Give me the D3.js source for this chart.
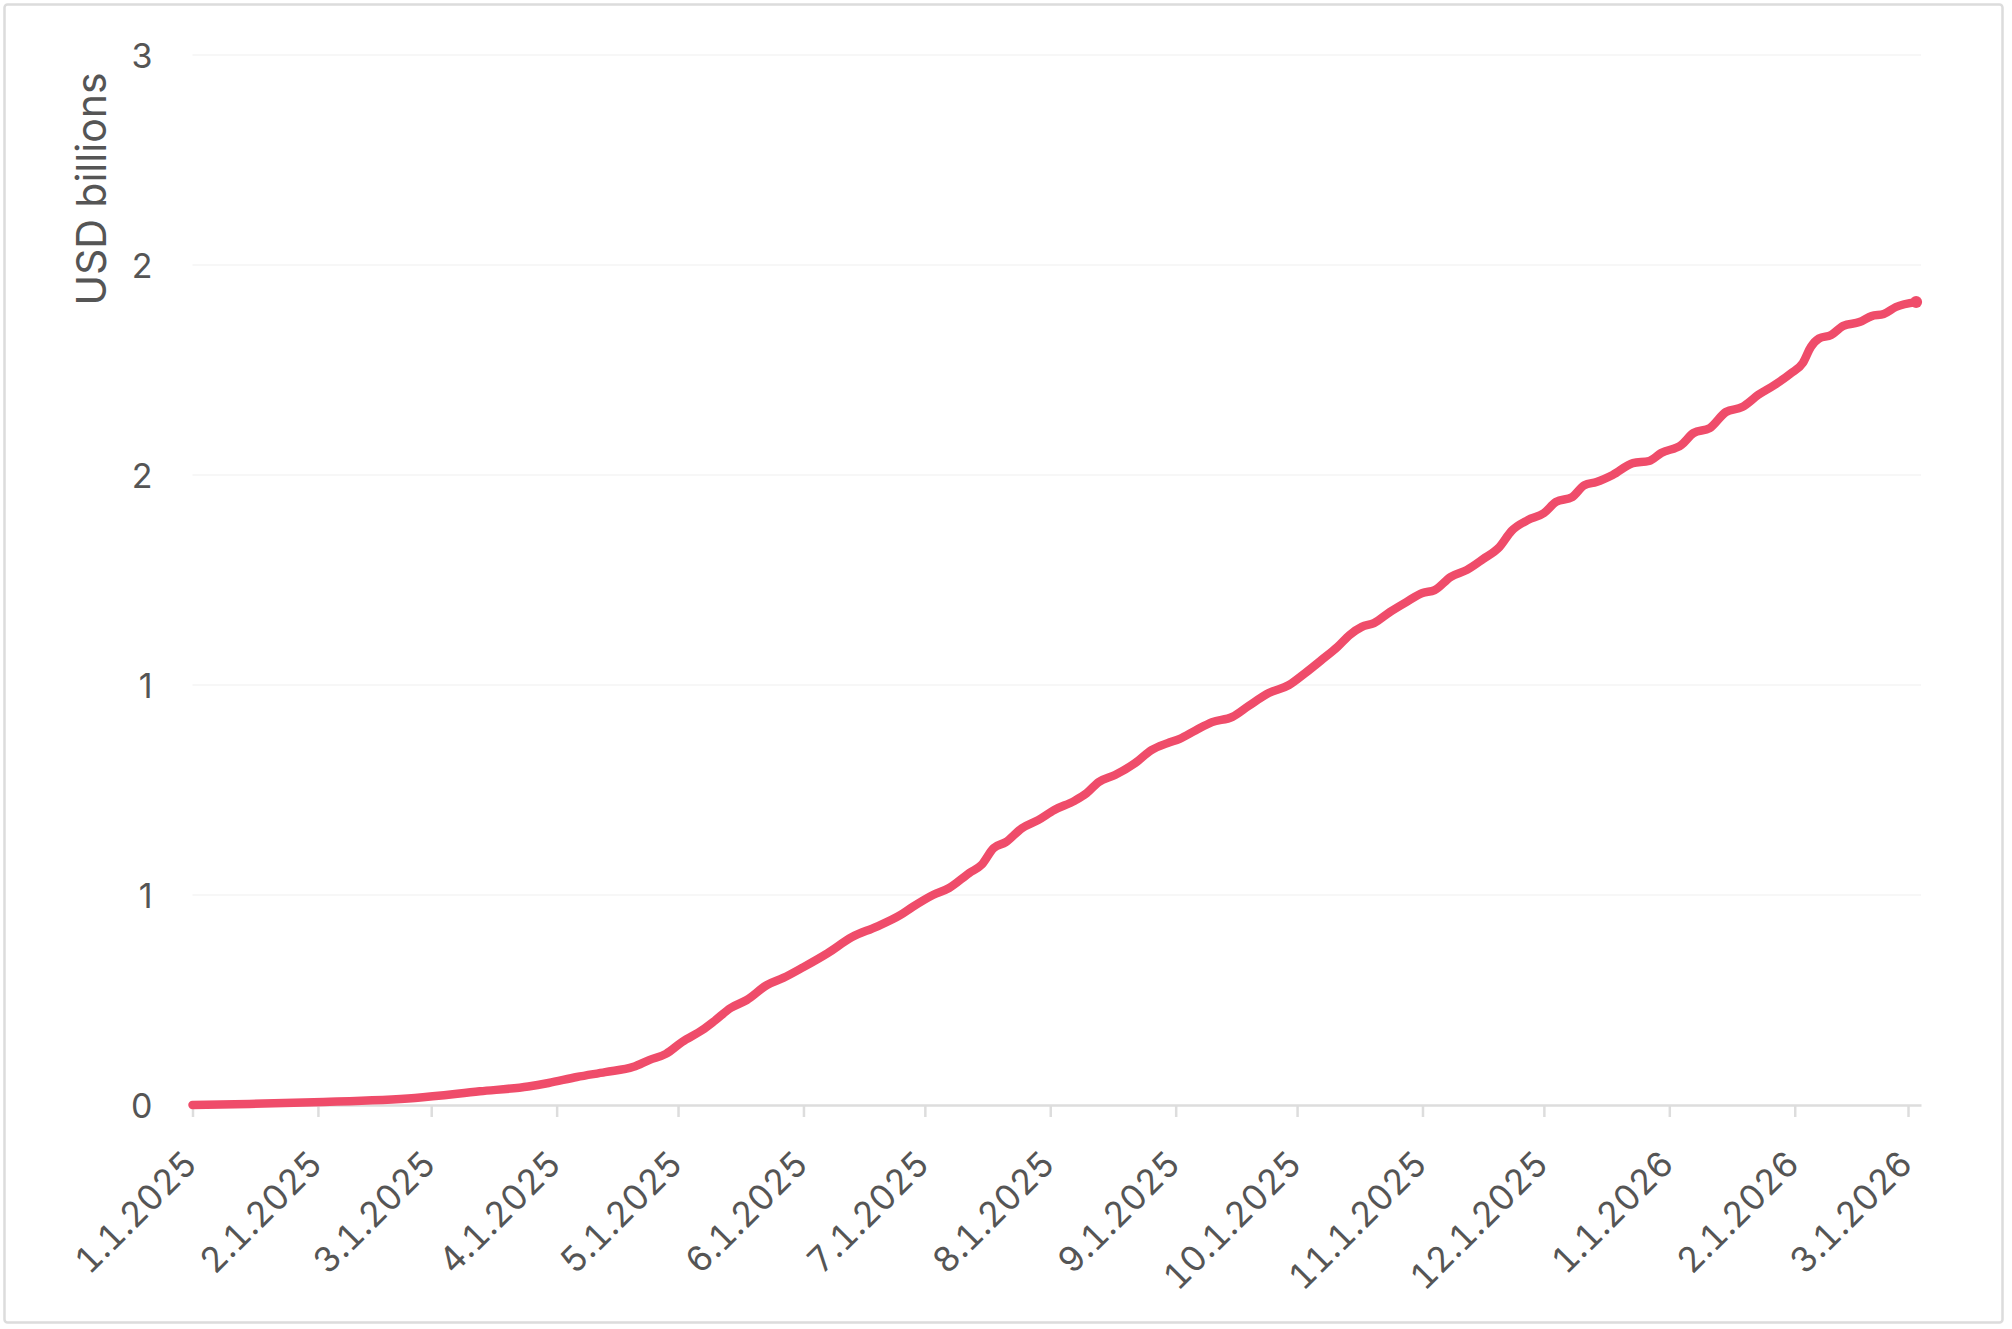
<!DOCTYPE html>
<html>
<head>
<meta charset="utf-8">
<script src="https://cdn.jsdelivr.net/npm/d3@7/dist/d3.min.js"></script>
<style>
  html, body { margin: 0; padding: 0; background: #ffffff; }
  svg { display: block; }
  .xlab { font-variant-numeric: tabular-nums; font-feature-settings: "tnum" 1; }
</style>
</head>
<body>
<svg id="chart" width="2012" height="1329"></svg>
<script>
// ---------------- DATA ----------------
const dates = [
  "2025-01-01","2025-01-15","2025-01-31","2025-02-25","2025-03-13","2025-03-25","2025-03-30",
  "2025-04-06","2025-04-13","2025-04-20","2025-04-24","2025-04-28","2025-05-02","2025-05-07",
  "2025-05-10","2025-05-14","2025-05-18","2025-05-23","2025-05-27","2025-06-01","2025-06-07",
  "2025-06-13","2025-06-19","2025-06-25","2025-06-28","2025-07-03","2025-07-07","2025-07-12",
  "2025-07-15","2025-07-18","2025-07-21","2025-07-25","2025-07-29","2025-08-02","2025-08-07",
  "2025-08-10","2025-08-13","2025-08-17","2025-08-22","2025-08-26","2025-08-30","2025-09-02",
  "2025-09-06","2025-09-10","2025-09-15","2025-09-19","2025-09-24","2025-09-29","2025-10-03",
  "2025-10-07","2025-10-11","2025-10-14","2025-10-17","2025-10-20","2025-10-24","2025-10-28",
  "2025-11-01","2025-11-04","2025-11-08","2025-11-12","2025-11-16","2025-11-20","2025-11-23",
  "2025-11-27","2025-12-01","2025-12-04","2025-12-08","2025-12-11","2025-12-14","2025-12-18",
  "2025-12-23","2025-12-27","2025-12-30","2026-01-04","2026-01-07","2026-01-11","2026-01-15",
  "2026-01-19","2026-01-23","2026-01-27","2026-01-31","2026-02-03","2026-02-05","2026-02-07",
  "2026-02-10","2026-02-13","2026-02-17","2026-02-20","2026-02-23","2026-02-26","2026-03-03"
];
const values = [
  0.000,0.003,0.008,0.020,0.039,0.053,0.063,
  0.080,0.094,0.109,0.129,0.146,0.180,0.214,
  0.240,0.277,0.300,0.343,0.363,0.394,0.434,
  0.480,0.509,0.543,0.566,0.600,0.620,0.663,
  0.686,0.734,0.751,0.791,0.814,0.843,0.869,
  0.891,0.923,0.943,0.977,1.014,1.034,1.046,
  1.071,1.094,1.109,1.140,1.177,1.200,1.234,
  1.271,1.309,1.343,1.366,1.377,1.409,1.437,
  1.463,1.471,1.509,1.529,1.560,1.594,1.640,
  1.671,1.691,1.723,1.737,1.771,1.780,1.800,
  1.834,1.840,1.863,1.886,1.920,1.934,1.980,
  1.994,2.029,2.057,2.090,2.120,2.166,2.190,
  2.200,2.226,2.237,2.254,2.260,2.280,2.294
];
const yTickValues = [0, 0.6, 1.2, 1.8, 2.4, 3.0];
const yTickLabels = ["0", "1", "1", "2", "2", "3"];
const yTitle = "USD billions";
const xDomainStart = "2025-01-01";
const xDomainEnd = "2026-03-04T05:00";

// ---------------- CHART ----------------
(function () {
  const parse = d3.isoParse;
  const data = dates.map((d, i) => ({ date: parse(d), value: values[i] }));

  const svg = d3.select("#chart");
  const FONT = "Inter, 'Liberation Sans', Arial, sans-serif";
  const TEXT = "#555555";

  const pL = 192.5, pR = 1921, pT = 55, pB = 1105;

  const x = d3.scaleTime()
    .domain([parse(xDomainStart), parse(xDomainEnd)])
    .range([pL, pR]);
  const y = d3.scaleLinear().domain([0, 3]).range([pB, pT]);

  // outer frame
  svg.append("rect")
    .attr("x", 4.5).attr("y", 4.5)
    .attr("width", 1998).attr("height", 1318)
    .attr("rx", 3)
    .attr("fill", "#ffffff")
    .attr("stroke", "#dcdcdc")
    .attr("stroke-width", 2.5);

  // gridlines
  svg.append("g")
    .selectAll("line")
    .data(yTickValues.filter(v => v > 0))
    .join("line")
    .attr("x1", pL).attr("x2", pR)
    .attr("y1", d => y(d)).attr("y2", d => y(d))
    .attr("stroke", "#f5f5f5")
    .attr("stroke-width", 1.5);

  // y axis labels
  const yAxis = d3.axisLeft(y)
    .tickValues(yTickValues)
    .tickSize(0)
    .tickPadding(0)
    .tickFormat((d, i) => yTickLabels[i]);
  const gy = svg.append("g").attr("transform", `translate(${pL - 40},0)`).call(yAxis);
  gy.select(".domain").remove();
  gy.selectAll("text")
    .attr("font-family", FONT)
    .attr("font-size", 34)
    .attr("fill", TEXT)
    .attr("dy", "0.36em");

  // y axis title
  svg.append("text")
    .attr("transform", `translate(106,189) rotate(-90)`)
    .attr("text-anchor", "middle")
    .attr("font-family", FONT)
    .attr("font-size", 41)
    .attr("fill", TEXT)
    .text(yTitle);

  // x axis
  const xTicks = d3.timeMonth.range(parse(xDomainStart), x.domain()[1]);
  const fmt = d3.timeFormat("%-m.%-d.%Y");
  const xAxis = d3.axisBottom(x)
    .tickValues(xTicks)
    .tickSize(12)
    .tickSizeOuter(0)
    .tickFormat(fmt);
  const gx = svg.append("g").attr("transform", `translate(0,${pB})`).call(xAxis);
  gx.select(".domain").attr("stroke", "#dddddd").attr("stroke-width", 2.5);
  gx.selectAll(".tick line").attr("stroke", "#dddddd").attr("stroke-width", 2.5);
  gx.selectAll(".tick text")
    .attr("class", "xlab")
    .attr("font-family", FONT)
    .attr("font-size", 35)
    .attr("fill", TEXT)
    .attr("text-anchor", "end")
    .attr("x", 0).attr("y", 0).attr("dy", 0)
    .attr("transform", "translate(6,61) rotate(-45)");

  // line
  const line = d3.line()
    .x(d => x(d.date))
    .y(d => y(d.value))
    .curve(d3.curveMonotoneX);

  svg.append("path")
    .datum(data)
    .attr("d", line)
    .attr("fill", "none")
    .attr("stroke", "#ef4c6a")
    .attr("stroke-width", 8.5)
    .attr("stroke-linecap", "round")
    .attr("stroke-linejoin", "round");

  const last = data[data.length - 1];
  svg.append("circle")
    .attr("cx", x(last.date)).attr("cy", y(last.value))
    .attr("r", 6)
    .attr("fill", "#ef4c6a");
})();
</script>
</body>
</html>
